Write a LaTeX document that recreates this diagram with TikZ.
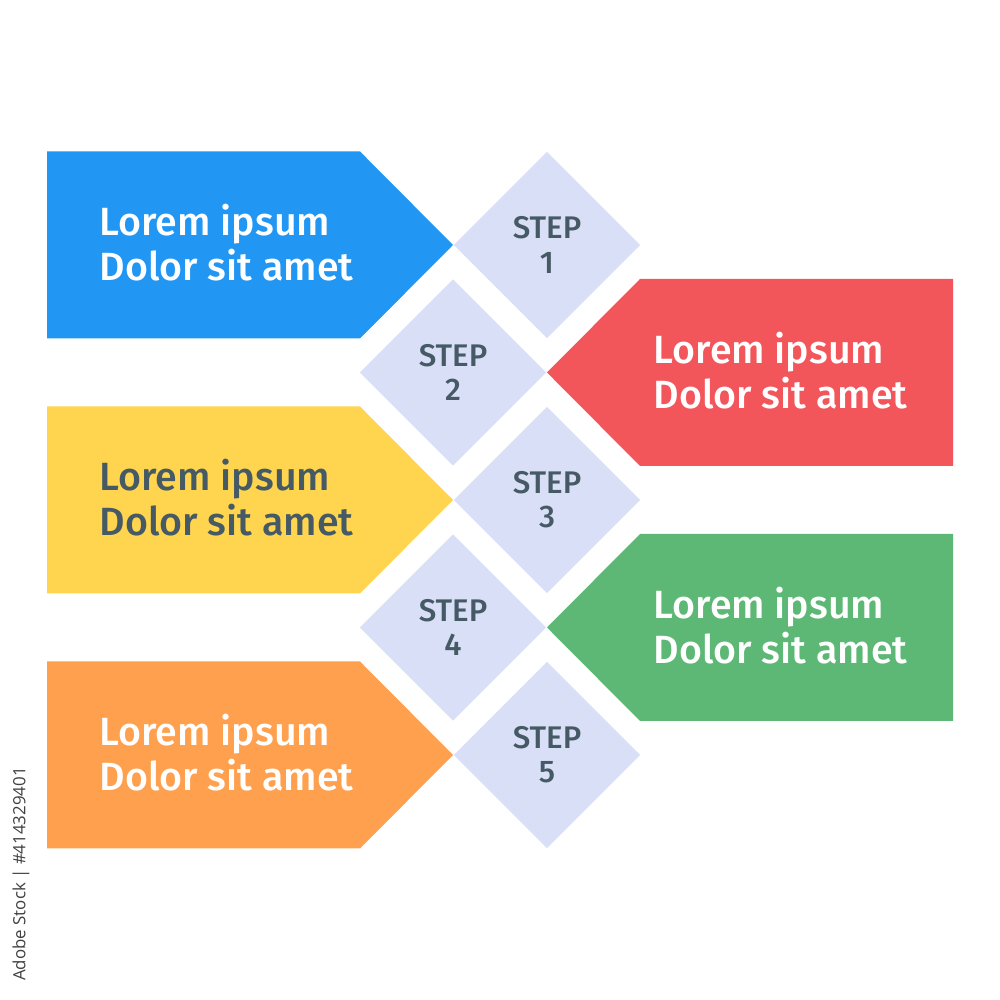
\documentclass[tikz,border=0pt]{standalone}
\usepackage{fontspec}
\setmainfont{Fira Sans}[BoldFont={Fira Sans Medium}]
\newfontfamily\stockfont{Open Sans}
\usetikzlibrary{shapes.geometric}
\definecolor{arrowblue}{HTML}{2196F3}
\definecolor{arrowred}{HTML}{F2565B}
\definecolor{arrowyellow}{HTML}{FFD54F}
\definecolor{arrowgreen}{HTML}{5CB874}
\definecolor{arroworange}{HTML}{FFA04E}
\definecolor{stepfill}{HTML}{DADFF8}
\definecolor{textgray}{HTML}{455A64}
\tikzset{
  stepbox/.style={diamond, fill=stepfill, minimum width=1.87cm, minimum height=1.87cm,
    inner sep=0pt, align=center, text=textgray,
    font=\fontsize{8.9}{9.7}\selectfont\bfseries},
  lorem/.style={anchor=west, align=left, inner sep=0pt,
    font=\fontsize{11.2}{12.8}\selectfont\bfseries}
}
\begin{document}
\begin{tikzpicture}
  \fill[white] (0,0) rectangle (10,10);
  \useasboundingbox (0,0) rectangle (10,10);

  % Left arrows (steps 1, 3, 5)
  \fill[arrowblue] (0.47,8.485) -- ++(3.13,0) -- ++(0.93,-0.935) -- ++(-0.93,-0.935) -- ++(-3.13,0) -- cycle;
  \fill[arrowyellow] (0.47,5.935) -- ++(3.13,0) -- ++(0.93,-0.935) -- ++(-0.93,-0.935) -- ++(-3.13,0) -- cycle;
  \fill[arroworange] (0.47,3.385) -- ++(3.13,0) -- ++(0.93,-0.935) -- ++(-0.93,-0.935) -- ++(-3.13,0) -- cycle;
  \node[lorem, text=white] (text1) at (0.99,7.57) {Lorem ipsum\\Dolor sit amet};
  \node[lorem, text=textgray] (text3) at (0.99,5.02) {Lorem ipsum\\Dolor sit amet};
  \node[lorem, text=white] (text5) at (0.99,2.47) {Lorem ipsum\\Dolor sit amet};

  % Right arrows (steps 2, 4)
  \fill[arrowred] (9.53,7.21) -- ++(-3.13,0) -- ++(-0.93,-0.935) -- ++(0.93,-0.935) -- ++(3.13,0) -- cycle;
  \fill[arrowgreen] (9.53,4.66) -- ++(-3.13,0) -- ++(-0.93,-0.935) -- ++(0.93,-0.935) -- ++(3.13,0) -- cycle;
  \node[lorem, text=white] (text2) at (6.53,6.295) {Lorem ipsum\\Dolor sit amet};
  \node[lorem, text=white] (text4) at (6.53,3.745) {Lorem ipsum\\Dolor sit amet};

  % Step diamonds
  \node[stepbox] (step1) at (5.47,7.55) {STEP\\1};
  \node[stepbox] (step2) at (4.53,6.275) {STEP\\2};
  \node[stepbox] (step3) at (5.47,5.00) {STEP\\3};
  \node[stepbox] (step4) at (4.53,3.725) {STEP\\4};
  \node[stepbox] (step5) at (5.47,2.45) {STEP\\5};

  % Stock mark
  \node[rotate=90, inner sep=0pt, text=black!75, font=\stockfont\fontsize{4.8}{5}\selectfont] (stock) at (0.21,1.26) {Adobe Stock | \#414329401};
\end{tikzpicture}
\end{document}
